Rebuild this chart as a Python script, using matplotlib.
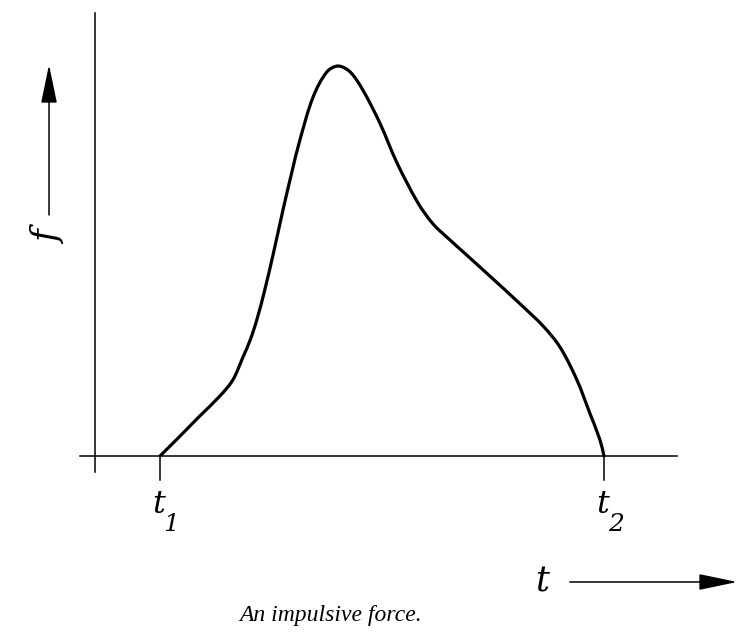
import math
import matplotlib.pyplot as plt
from matplotlib.path import Path
from matplotlib.patches import PathPatch

# Impulsive force pulse: time scaled so t1 = 0 and t2 = 1, force scaled to the peak
t_vals = [0.000, 0.045, 0.090, 0.135, 0.164, 0.187, 0.203, 0.218, 0.236, 0.257,
          0.277, 0.297, 0.315, 0.345, 0.376, 0.401, 0.428, 0.457, 0.495, 0.534,
          0.581, 0.615, 0.653, 0.691, 0.750, 0.811, 0.863, 0.901, 0.939, 0.968,
          0.991, 1.000]
f_vals = [0.000, 0.051, 0.103, 0.154, 0.195, 0.254, 0.297, 0.349, 0.426, 0.528,
          0.631, 0.728, 0.810, 0.921, 0.985, 1.000, 0.985, 0.938, 0.854, 0.751,
          0.649, 0.595, 0.554, 0.515, 0.454, 0.390, 0.333, 0.279, 0.195, 0.110,
          0.041, 0.000]

tick_times = [0.0, 1.0]
tick_subs = ['1', '2']
x_label = 't'
y_label = 'f'
caption = 'An impulsive force.'

LABEL_FONT = 'DejaVu Serif'
CAPTION_FONT = 'Liberation Serif'


def smooth_path(xs, ys):
    """Chord-length Catmull-Rom through the points, as cubic Bezier segments."""
    pts = list(zip(xs, ys))
    n = len(pts)

    def dist(a, b):
        return math.hypot(b[0] - a[0], b[1] - a[1])

    def tangent(i):
        a = pts[max(i - 1, 0)]
        b = pts[min(i + 1, n - 1)]
        d = dist(a, pts[i]) + dist(pts[i], b)
        return ((b[0] - a[0]) / d, (b[1] - a[1]) / d)

    verts = [pts[0]]
    codes = [Path.MOVETO]
    for i in range(n - 1):
        p1, p2 = pts[i], pts[i + 1]
        h = dist(p1, p2) / 3
        m1, m2 = tangent(i), tangent(i + 1)
        verts += [(p1[0] + m1[0] * h, p1[1] + m1[1] * h),
                  (p2[0] - m2[0] * h, p2[1] - m2[1] * h), p2]
        codes += [Path.CURVE4] * 3
    return Path(verts, codes)


fig = plt.figure(figsize=(7.51, 6.33), dpi=100)
ax = fig.add_axes([0, 0, 1, 1])
ax.set_xlim(-0.3604, 1.3311)
ax.set_ylim(-0.4538, 1.1692)
ax.axis('off')

# axes lines
ax.plot([-0.180, 1.164], [0, 0], color='black', lw=1.1)
ax.plot([-0.146, -0.146], [-0.041, 1.136], color='black', lw=1.1)

# the pulse
ax.add_patch(PathPatch(smooth_path(t_vals, f_vals), facecolor='none',
                       edgecolor='black', lw=2.3, capstyle='round',
                       joinstyle='round'))

# t1 / t2 ticks and labels
for tt, sub in zip(tick_times, tick_subs):
    ax.plot([tt, tt], [0, -0.062], color='black', lw=1.1)
    ax.text(tt - 0.004, -0.146, 't', fontsize=23, style='italic',
            family=LABEL_FONT, ha='center', va='baseline')
    ax.text(tt + 0.026, -0.192, sub, fontsize=18, style='italic',
            family=LABEL_FONT, ha='center', va='baseline')

# axis labels with arrows
ax.text(-0.25, 0.56, y_label, fontsize=25, style='italic', family=LABEL_FONT,
        rotation=90, ha='center', va='center')
ax.annotate('', xy=(-0.25, 1.003), xytext=(-0.25, 0.618),
            arrowprops=dict(arrowstyle='-|>,head_length=1.2,head_width=0.25',
                            mutation_scale=20, color='black', lw=1.1,
                            shrinkA=0, shrinkB=0))

ax.text(0.86, -0.323, x_label, fontsize=25, style='italic', family=LABEL_FONT,
        ha='center', va='center')
ax.annotate('', xy=(1.300, -0.323), xytext=(0.923, -0.323),
            arrowprops=dict(arrowstyle='-|>,head_length=1.2,head_width=0.25',
                            mutation_scale=20, color='black', lw=1.1,
                            shrinkA=0, shrinkB=0))

ax.text(0.385, -0.408, caption, fontsize=17, style='italic',
        family=CAPTION_FONT, ha='center', va='center')

fig.savefig('out.png', dpi=100)
